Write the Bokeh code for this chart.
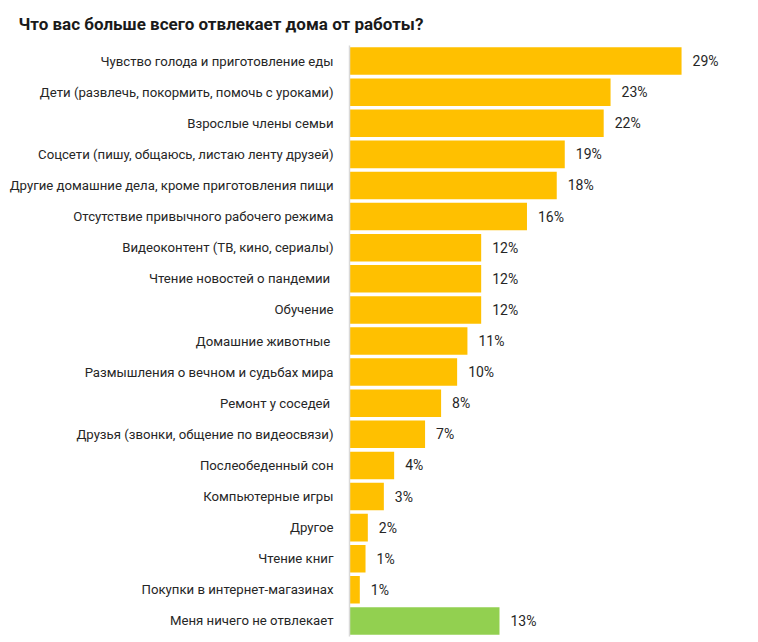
from bokeh.plotting import figure
from bokeh.models import ColumnDataSource, Range1d, FactorRange
from bokeh.core.properties import value
from bokeh.embed import file_html
from bokeh.resources import INLINE

title_text = "Что вас больше всего отвлекает дома от работы?"

categories = [
    "Чувство голода и приготовление еды",
    "Дети (развлечь, покормить, помочь с уроками)",
    "Взрослые члены семьи",
    "Соцсети (пишу, общаюсь, листаю ленту друзей)",
    "Другие домашние дела, кроме приготовления пищи",
    "Отсутствие привычного рабочего режима",
    "Видеоконтент (ТВ, кино, сериалы)",
    "Чтение новостей о пандемии ",
    "Обучение",
    "Домашние животные ",
    "Размышления о вечном и судьбах мира",
    "Ремонт у соседей ",
    "Друзья (звонки, общение по видеосвязи)",
    "Послеобеденный сон",
    "Компьютерные игры",
    "Другое",
    "Чтение книг",
    "Покупки в интернет-магазинах",
    "Меня ничего не отвлекает",
]

values = [29.0, 22.8, 22.2, 18.8, 18.1, 15.5, 11.5, 11.5, 11.5, 10.3,
          9.4, 8.0, 6.6, 3.9, 3.0, 1.6, 1.4, 0.9, 13.1]

value_labels = ["29%", "23%", "22%", "19%", "18%", "16%", "12%", "12%", "12%", "11%",
                "10%", "8%", "7%", "4%", "3%", "2%", "1%", "1%", "13%"]

YELLOW = "#FFC000"
GREEN = "#92D050"
colors = [YELLOW] * (len(categories) - 1) + [GREEN]

src = ColumnDataSource(dict(cat=categories, val=values, lab=value_labels, col=colors))

p = figure(
    width=758, height=642,
    y_range=FactorRange(factors=list(reversed(categories)), range_padding=0),
    x_range=Range1d(0, 35.72),
    output_backend="svg", toolbar_location=None,
    min_border_left=349, min_border_right=0, min_border_top=44, min_border_bottom=6,
    title=title_text,
)
p.outline_line_color = None
p.background_fill_color = "white"
p.border_fill_color = "white"
p.xgrid.visible = False
p.ygrid.visible = False
p.xaxis.visible = False

p.title.align = "left"
p.title.offset = -331
p.title.standoff = 23
p.title.text_font = "Roboto"
p.title.text_font_style = "bold"
p.title.text_font_size = "17px"
p.title.text_color = "#1a1a1a"

p.hbar(y="cat", right="val", left=0, height=0.885, color="col", line_color=None, source=src)

p.text(x="val", y="cat", text="lab", source=src, x_offset=11,
       text_align="left", text_baseline="middle",
       text_font=value("Roboto"), text_font_size="14px", text_color="#262626")

ax = p.yaxis[0]
ax.axis_line_color = "#D9D9D9"
ax.axis_line_width = 1.5
ax.major_tick_line_color = None
ax.minor_tick_line_color = None
ax.major_tick_out = 0
ax.major_tick_in = 0
ax.major_label_standoff = 16
ax.major_label_text_font = "Roboto"
ax.major_label_text_font_size = "13.2px"
ax.major_label_text_color = "#262626"

open("out.html", "w").write(file_html(p, INLINE))
